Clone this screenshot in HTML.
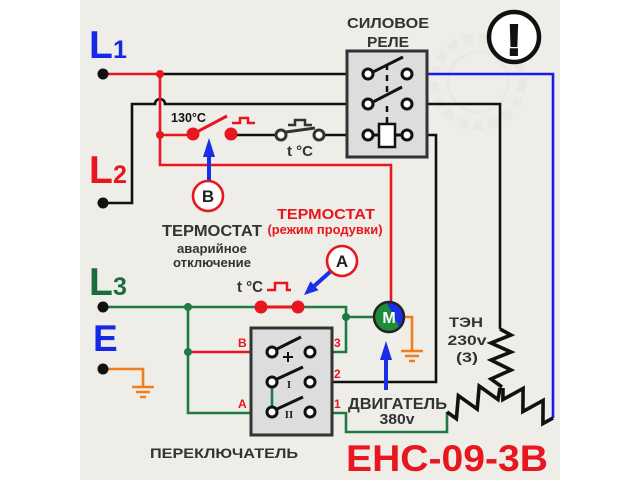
<!DOCTYPE html>
<html><head><meta charset="utf-8"><style>
html,body{margin:0;padding:0;background:#fff;}
svg{display:block;}
text{font-family:"Liberation Sans","DejaVu Sans",sans-serif;font-weight:bold;}
</style></head><body>
<svg width="640" height="480" viewBox="0 0 640 480" xmlns="http://www.w3.org/2000/svg">
<rect width="640" height="480" fill="#fff"/>
<rect x="80" y="0" width="480" height="480" fill="#eeede7"/>
<!-- faint watermark gear -->
<circle cx="478" cy="82" r="44" fill="none" stroke="#e9e8e2" stroke-width="9" stroke-dasharray="10 6"/>
<circle cx="478" cy="82" r="30" fill="none" stroke="#e9e8e2" stroke-width="3"/>

<!-- exclamation -->
<circle cx="514" cy="37" r="25" fill="#fff" stroke="#111" stroke-width="4.5"/>
<text x="514" y="55" font-size="44" text-anchor="middle" fill="#111" stroke="#111" stroke-width="2">!</text>

<!-- Labels L1 L2 L3 E -->
<text x="89" y="58" font-size="39" fill="#1428e6">L</text><text x="113" y="58" font-size="25" fill="#1428e6">1</text>
<text x="89" y="183" font-size="39" fill="#e8161e">L</text><text x="113" y="183" font-size="25" fill="#e8161e">2</text>
<text x="89" y="295" font-size="39" fill="#1b6d3c">L</text><text x="113" y="295" font-size="25" fill="#1b6d3c">3</text>
<text x="93" y="351" font-size="37" fill="#1428e6">E</text>

<!-- wires -->
<g fill="none" stroke-width="2.6" stroke-linejoin="miter">
  <path d="M160 74 H363" stroke="#111"/>
  <path d="M108 203 H132 V104 H155 A5 5 0 0 1 165 104 H363" stroke="#111"/>
  <path d="M231 135 H276 M324 135 H363" stroke="#111"/>
  <path d="M412 104 H500 V329" stroke="#111"/>
  <path d="M412 135 H436 V382 H315" stroke="#111"/>
  <path d="M108 74 H160 V165 H391 V301" stroke="#e8161e"/>
  <path d="M160 135 H193" stroke="#e8161e"/>
  <path d="M188 352 H267" stroke="#e8161e"/>
  <path d="M412 74 H553 V418" stroke="#1a1af0"/>
  <path d="M108 307 H261 M298 307 H346 V352 H315 M346 317 H374" stroke="#1f7a44"/>
  <path d="M188 307 V413 H267" stroke="#1f7a44"/>
  <path d="M272 387 V407" stroke="#1f7a44"/>
  <path d="M315 413 H346 V432 H447 V412" stroke="#1f7a44"/>
  <path d="M261 307 H298" stroke="#e8161e" stroke-width="3"/>
  <path d="M108 369 H143 V386" stroke="#f07d1e"/>
  <path d="M403 317 H412 V350" stroke="#f07d1e"/>
</g>
<!-- grounds -->
<g stroke="#f07d1e" stroke-width="2.6">
  <path d="M132 387 H154 M136 392 H150 M140 397 H146"/>
  <path d="M401 351 H423 M405 356 H419 M409 361 H415"/>
</g>

<!-- heater zigzags -->
<g fill="none" stroke="#111" stroke-width="3.6" stroke-linejoin="miter">
  <path d="M500 329 L511 335 L491 343 L511 352 L491 360 L511 370 L491 379 L502 387"/>
  <path d="M447 412 L456.4 418.7 L458.4 395.7 L477.2 409.1 L479.2 386.1 L498 399.5 L500 388"/>
  <path d="M503 388 L502.9 399.6 L523.1 388.4 L522.9 411.6 L543.1 400.4 L542.9 423.6 L553 418"/>
</g>

<!-- relay -->
<rect x="347" y="51" width="80" height="106" fill="#dddddd" stroke="#333" stroke-width="3"/>
<g fill="none" stroke="#111" stroke-width="3">
  <path d="M373 72 L403 57 M373 102 L402 87"/>
  <path d="M373 135 H380 M394 135 H402"/>
</g>
<path d="M387 64 V94 M387 106 V124" stroke="#111" stroke-width="2.5" stroke-dasharray="6 5"/>
<rect x="379" y="124" width="16" height="23" fill="#fff" stroke="#111" stroke-width="2.5"/>
<g fill="#fff" stroke="#111" stroke-width="3">
  <circle cx="368" cy="74" r="5"/><circle cx="407" cy="74" r="5"/>
  <circle cx="368" cy="104" r="5"/><circle cx="407" cy="104" r="5"/>
  <circle cx="368" cy="135" r="5"/><circle cx="407" cy="135" r="5"/>
</g>
<text x="388" y="28" font-size="15" fill="#333" text-anchor="middle" textLength="82" lengthAdjust="spacingAndGlyphs">СИЛОВОЕ</text>
<text x="388" y="47" font-size="15" fill="#333" text-anchor="middle" textLength="42" lengthAdjust="spacingAndGlyphs">РЕЛЕ</text>

<!-- 130°C switch -->
<path d="M193 134 L227 116" stroke="#e8161e" stroke-width="3"/>
<circle cx="193" cy="134" r="6.5" fill="#e8161e"/>
<circle cx="231" cy="134" r="6.5" fill="#e8161e"/>
<path d="M232 123 H240 V118 H248 V123 H255" fill="none" stroke="#e8161e" stroke-width="2.5"/>
<text x="171" y="122" font-size="12.5" fill="#111" textLength="35" lengthAdjust="spacingAndGlyphs">130°C</text>

<!-- t°C NC switch -->
<path d="M286 132 L315 128" stroke="#333" stroke-width="3"/>
<circle cx="281" cy="135" r="5" fill="#fff" stroke="#333" stroke-width="3"/>
<circle cx="319" cy="135" r="5" fill="#fff" stroke="#333" stroke-width="3"/>
<path d="M288 125 H295 V120 H305 V125 H312" fill="none" stroke="#333" stroke-width="2.5"/>
<text x="287" y="156" font-size="15" fill="#333" textLength="26" lengthAdjust="spacingAndGlyphs">t °C</text>

<!-- B marker -->
<path d="M209 181 V155" stroke="#1a2ee8" stroke-width="4"/>
<polygon points="209,138 203,157 215,157" fill="#1a2ee8"/>
<circle cx="208" cy="196" r="15" fill="#fff" stroke="#e8161e" stroke-width="2.6"/>
<text x="208" y="202" font-size="17" fill="#222" text-anchor="middle">B</text>

<!-- thermostat texts -->
<text x="326" y="219" font-size="15" fill="#e8161e" text-anchor="middle" textLength="98" lengthAdjust="spacingAndGlyphs">ТЕРМОСТАТ</text>
<text x="325" y="234" font-size="12.5" fill="#e8161e" text-anchor="middle" textLength="115" lengthAdjust="spacingAndGlyphs">(режим продувки)</text>
<text x="212" y="236" font-size="16" fill="#333" text-anchor="middle" textLength="100" lengthAdjust="spacingAndGlyphs">ТЕРМОСТАТ</text>
<text x="212" y="253" font-size="13" fill="#333" text-anchor="middle" textLength="70" lengthAdjust="spacingAndGlyphs">аварийное</text>
<text x="212" y="267" font-size="13" fill="#333" text-anchor="middle" textLength="78" lengthAdjust="spacingAndGlyphs">отключение</text>

<!-- A marker -->
<path d="M331 271 L314.5 285.7" stroke="#1a2ee8" stroke-width="4"/>
<polygon points="304,295 318.5,290.2 310.5,281.2" fill="#1a2ee8"/>
<circle cx="342" cy="261" r="15" fill="#fff" stroke="#e8161e" stroke-width="2.6"/>
<text x="342" y="267" font-size="17" fill="#222" text-anchor="middle">A</text>
<text x="237" y="292" font-size="16" fill="#333" textLength="26" lengthAdjust="spacingAndGlyphs">t °C</text>
<path d="M267 290 H275 V283 H287 V290 H291" fill="none" stroke="#e8161e" stroke-width="2.5"/>
<circle cx="261" cy="307" r="6.5" fill="#e8161e"/>
<circle cx="298" cy="307" r="6.5" fill="#e8161e"/>

<!-- junction dots -->
<circle cx="160" cy="74" r="4" fill="#e8161e"/>
<circle cx="160" cy="135" r="4" fill="#e8161e"/>
<circle cx="188" cy="307" r="4" fill="#1f7a44"/>
<circle cx="188" cy="352" r="4" fill="#1f7a44"/>
<circle cx="346" cy="317" r="4" fill="#1f7a44"/>
<!-- terminals -->
<g fill="#111">
  <circle cx="103" cy="74" r="5.5"/><circle cx="103" cy="203" r="5.5"/>
  <circle cx="103" cy="307" r="5.5"/><circle cx="103" cy="369" r="5.5"/>
</g>

<!-- switch box -->
<rect x="251" y="328" width="81" height="107" fill="#dddddd" stroke="#333" stroke-width="3"/>
<path d="M272 387 V407" stroke="#1f7a44" stroke-width="2.6"/>
<g fill="none" stroke="#111" stroke-width="3">
  <path d="M277 349 L301 337 M277 379 L303 367 M277 409 L303 397"/>
  <path d="M283 357 H293 M288 352 V362" stroke-width="2"/>
</g>
<g fill="#fff" stroke="#111" stroke-width="3">
  <circle cx="272" cy="352" r="5"/><circle cx="310" cy="352" r="5"/>
  <circle cx="272" cy="382" r="5"/><circle cx="310" cy="382" r="5"/>
  <circle cx="272" cy="412" r="5"/><circle cx="310" cy="412" r="5"/>
</g>
<text x="289" y="388" font-size="11" fill="#222" text-anchor="middle" style="font-family:'Liberation Serif',serif">I</text>
<text x="289" y="418" font-size="11" fill="#222" text-anchor="middle" style="font-family:'Liberation Serif',serif">II</text>
<g font-size="12" fill="#e8161e">
  <text x="238" y="347">B</text><text x="334" y="347">3</text>
  <text x="334" y="378">2</text><text x="238" y="408">A</text>
  <text x="334" y="408">1</text>
</g>

<!-- motor -->
<circle cx="389" cy="317" r="15" fill="#1f8a3a"/>
<path d="M386.4 302.2 A15 15 0 0 1 399.6 327.6 Z" fill="#1a2ee8"/>
<circle cx="389" cy="317" r="15" fill="none" stroke="#222" stroke-width="2.5"/>
<text x="389" y="323" font-size="16" fill="#fff" text-anchor="middle">M</text>
<path d="M386 390 V358" stroke="#1a2ee8" stroke-width="4"/>
<polygon points="386,341 380,360 392,360" fill="#1a2ee8"/>

<text x="348" y="409" font-size="16" fill="#333" textLength="99" lengthAdjust="spacingAndGlyphs">ДВИГАТЕЛЬ</text>
<text x="397" y="424" font-size="15" fill="#333" text-anchor="middle" textLength="35" lengthAdjust="spacingAndGlyphs">380v</text>
<text x="466" y="327" font-size="14" fill="#333" text-anchor="middle" textLength="34" lengthAdjust="spacingAndGlyphs">ТЭН</text>
<text x="467" y="345" font-size="14" fill="#333" text-anchor="middle" textLength="39" lengthAdjust="spacingAndGlyphs">230v</text>
<text x="467" y="362" font-size="14" fill="#333" text-anchor="middle" textLength="22" lengthAdjust="spacingAndGlyphs">(3)</text>

<text x="150" y="458" font-size="14" fill="#333" textLength="148" lengthAdjust="spacingAndGlyphs">ПЕРЕКЛЮЧАТЕЛЬ</text>
<text x="346" y="471" font-size="37" fill="#e8161e" textLength="202" lengthAdjust="spacingAndGlyphs">ЕНС-09-3В</text>
</svg>
</body></html>
